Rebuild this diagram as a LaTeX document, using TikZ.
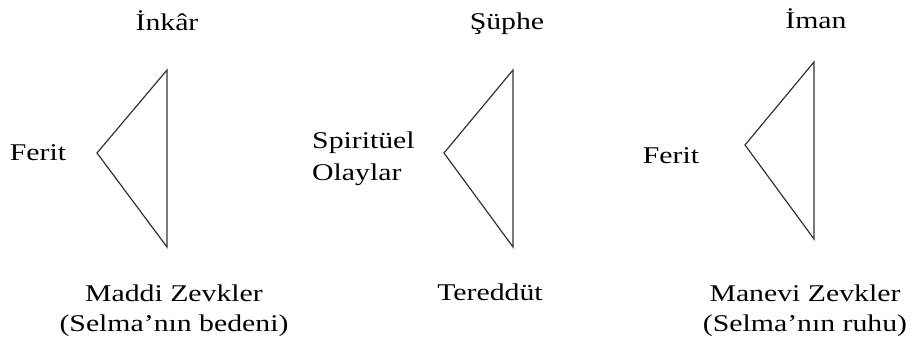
\documentclass[tikz,border=0pt]{standalone}
\usepackage{fontspec}
\setmainfont{Liberation Serif}[FakeStretch=1.24]
\begin{document}
\begin{tikzpicture}[x=1pt,y=-1pt,
  lbl/.style={inner sep=0pt,font=\fontsize{24}{30}\selectfont,anchor=base},
  tri/.style={draw=black!80,line width=1.2pt,line join=miter}]
\useasboundingbox (0,0) rectangle (913,343);
% triangle 1
\coordinate (a1) at (167,70);
\coordinate (b1) at (97,153);
\coordinate (c1) at (167,247);
\draw[tri] (a1) -- (b1) -- (c1) -- cycle;
% triangle 2
\coordinate (a2) at (513,70);
\coordinate (b2) at (444,153);
\coordinate (c2) at (513,247);
\draw[tri] (a2) -- (b2) -- (c2) -- cycle;
% triangle 3
\coordinate (a3) at (814,62);
\coordinate (b3) at (745,145);
\coordinate (c3) at (814,239);
\draw[tri] (a3) -- (b3) -- (c3) -- cycle;
% labels
\node[lbl] (t1) at (167,30) {İnkâr};
\node[lbl] (t2) at (507,29) {Şüphe};
\node[lbl] (t3) at (816,28) {İman};
\node[lbl] (f1) at (38,160) {Ferit};
\node[lbl,align=left,anchor=base west,font=\fontsize{24}{32}\selectfont] (s2) at (312,180) {Spiritüel\\Olaylar};
\node[lbl] (f3) at (671,163) {Ferit};
\node[lbl,align=center] (m1) at (174,331) {Maddi Zevkler\\(Selma’nın bedeni)};
\node[lbl] (m2) at (490,300) {Tereddüt};
\node[lbl,align=center] (m3) at (805,331) {Manevi Zevkler\\(Selma’nın ruhu)};
\end{tikzpicture}
\end{document}
